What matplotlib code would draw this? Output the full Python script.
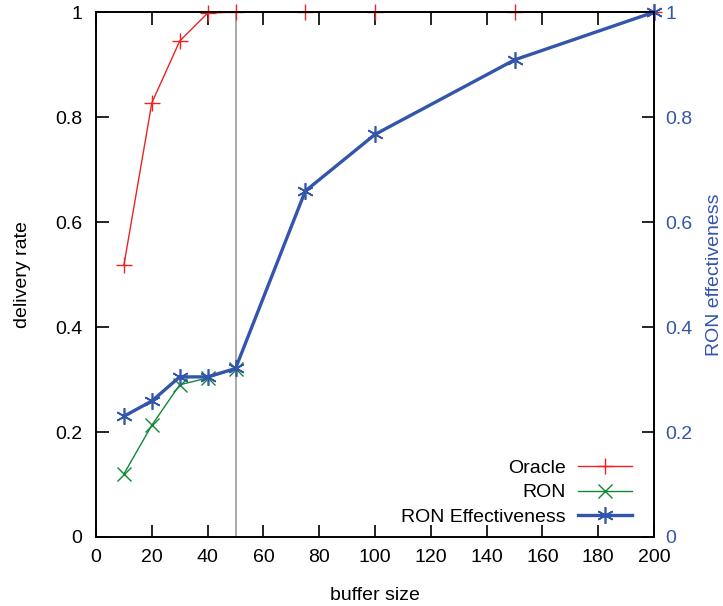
import matplotlib.pyplot as plt

buffer_size = [10, 20, 30, 40, 50, 75, 100, 150, 200]
oracle = [0.518, 0.827, 0.945, 0.998, 1.0, 1.0, 1.0, 1.0, 1.0]
ron_x = [10, 20, 30, 40, 50]
ron = [0.120, 0.213, 0.290, 0.303, 0.320]
effectiveness = [0.230, 0.259, 0.305, 0.305, 0.321, 0.659, 0.767, 0.909, 1.0]
y_ticks = [0, 0.2, 0.4, 0.6, 0.8, 1]
y_labels = ["0", "0.2", "0.4", "0.6", "0.8", "1"]

RED = "#ee2222"
GREEN = "#118833"
BLUE = "#3355aa"

plt.rcParams["font.family"] = ["Liberation Sans", "DejaVu Sans"]
plt.rcParams["font.size"] = 14

fig = plt.figure(figsize=(7.23, 6.06), dpi=100)
ax = fig.add_axes([0.1328, 0.1139, 0.9046 - 0.1328, 0.980 - 0.1139])
ax2 = ax.twinx()

# vertical marker line at buffer size 50
ax.axvline(50, color="#999999", lw=1.2, zorder=1)

l1, = ax.plot(buffer_size, oracle, color=RED, lw=1, marker="+", ms=11,
              mew=1, label="Oracle", clip_on=False)
l2, = ax.plot(ron_x, ron, color=GREEN, lw=1, marker="x", ms=10,
              mew=1, label="RON", clip_on=False)
l3, = ax2.plot(buffer_size, effectiveness, color=BLUE, lw=2.4, marker=(6, 2, 0),
               ms=12, mew=1.2, label="RON Effectiveness", clip_on=False)

ax.set_xlim(0, 200)
ax.set_ylim(0, 1)
ax2.set_ylim(0, 1)
ax.set_xticks(range(0, 201, 20))
ax.set_yticks(y_ticks)
ax.set_yticklabels(y_labels)
ax2.set_yticks(y_ticks)
ax2.set_yticklabels(y_labels)

ax.tick_params(axis="x", direction="in", top=True, length=9, width=1.2, pad=9)
ax.tick_params(axis="y", direction="in", length=9, width=1.2, pad=10)
ax2.tick_params(axis="y", direction="in", length=9, width=1.2, pad=8,
                colors=BLUE)
ax2.tick_params(axis="y", color="black")

for a in (ax, ax2):
    for s in a.spines.values():
        s.set_linewidth(1.2)

ax.set_xlabel("buffer size", labelpad=15)
ax.set_ylabel("delivery rate", labelpad=17)
ax2.set_ylabel("RON effectiveness", color=BLUE, labelpad=10)

ax.legend(handles=[l1, l2, l3], loc="lower right", frameon=False,
          markerfirst=False, handlelength=2.8, labelspacing=0.35,
          handletextpad=0.6, bbox_to_anchor=(0.992, -0.012))

fig.savefig("out.png", dpi=100)
